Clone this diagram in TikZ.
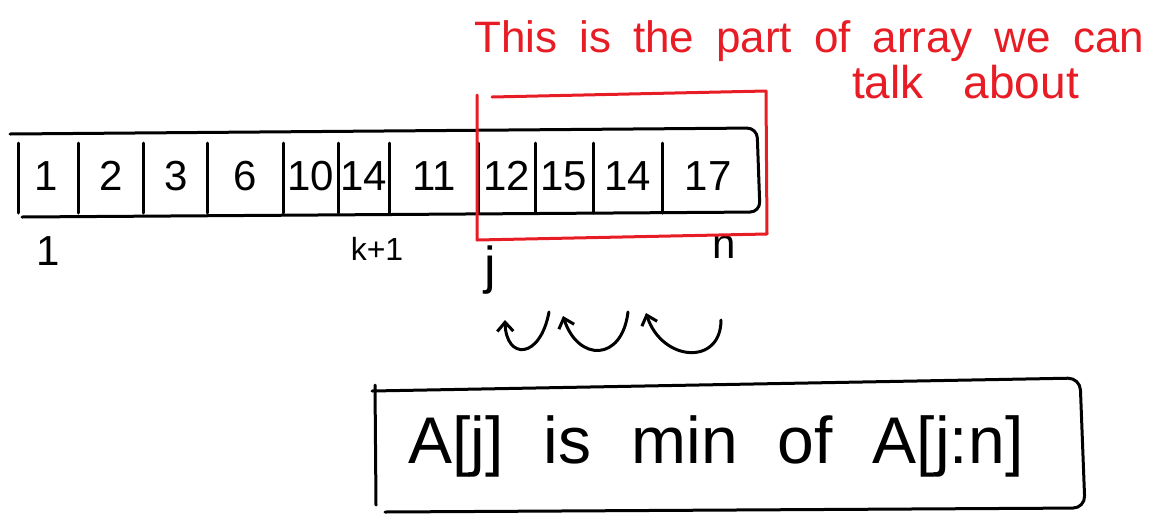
\documentclass[tikz,border=0pt]{standalone}
\usepackage{fontspec}
\setmainfont{Liberation Sans}
\usetikzlibrary{arrows.meta}
\definecolor{pen}{RGB}{232,28,36}
\newcommand\widewords[1]{\spaceskip=#1\relax}
\begin{document}
\begin{tikzpicture}[x=1pt, y=-1pt, line cap=round, line join=round,
  stroke/.style={line width=3pt, draw=black},
  redpen/.style={line width=3pt, draw=pen},
  cell/.style={font=\fontsize{42}{46}\selectfont, inner sep=0pt},
  idx/.style={font=\fontsize{42}{46}\selectfont, inner sep=0pt, anchor=base},
  note/.style={font={\fontsize{44}{48}\selectfont\widewords{22pt}}, text=pen, inner sep=0pt, anchor=base west},
  claim/.style={font={\fontsize{66}{72}\selectfont\widewords{40pt}}, inner sep=0pt},
  hop/.style={line width=3pt, -{Straight Barb[length=9pt, width=16pt, line width=3pt]}}]
\useasboundingbox (0,0) rectangle (1157,515);

% array outline, open on the left, rounded at the right end
\draw[stroke, rounded corners=10pt] (10,134) -- (757,128) -- (760,212) -- (22,217);

% cell dividers
\foreach \x in {18,78,143,207,283,338,389,478,535,593,662}
  \draw[stroke] (\x,143) -- (\x,213);

% cell values
\node[cell] (c1)  at (46,176)  {1};
\node[cell] (c2)  at (111,176) {2};
\node[cell] (c3)  at (176,176) {3};
\node[cell] (c4)  at (245,176) {6};
\node[cell] (c5)  at (311,176) {10};
\node[cell] (c6)  at (364,176) {14};
\node[cell] (c7)  at (434,176) {11};
\node[cell] (c8)  at (507,176) {12};
\node[cell] (c9)  at (564,176) {15};
\node[cell] (c10) at (628,176) {14};
\node[cell] (c11) at (708,176) {17};

% index labels under the array
\node[idx] (i1) at (48,265) {1};
\node[idx, font=\fontsize{32}{36}\selectfont] (ik) at (377,260) {k+1};
\node[idx, font=\fontsize{52}{56}\selectfont] (ij) at (490,283) {j};
\node[idx] (in) at (724,258) {n};

% red frame around the suffix A[j:n] and its note
\draw[redpen] (477,95) -- (477,240) -- (767,234) -- (766,91) -- (492,97);
\node[note] (note1) at (474,52) {This is the part of array we can};
\node[note, font={\fontsize{46}{50}\selectfont\widewords{40pt}}] (note2) at (852,98) {talk about};

% hops from each cell back to the previous one
\coordinate (h1s) at (549,312); \coordinate (h1e) at (505,320);
\coordinate (h2s) at (628,312); \coordinate (h2e) at (563,316);
\coordinate (h3s) at (721,320); \coordinate (h3e) at (646,313);
\draw[hop] (h1s) .. controls (540,360) and (506,360) .. (h1e);
\draw[hop] (h2s) .. controls (622,362) and (578,362) .. (h2e);
\draw[hop] (h3s) .. controls (721,366) and (662,362) .. (h3e);

% invariant box
\draw[stroke] (375,385) -- (376,505);
\draw[stroke, rounded corners=12pt] (372,391) -- (1080,378) -- (1085,508) -- (385,512);
\node[claim] (claim) at (716,446) {A[j] is min of A[j:n]};
\end{tikzpicture}
\end{document}
